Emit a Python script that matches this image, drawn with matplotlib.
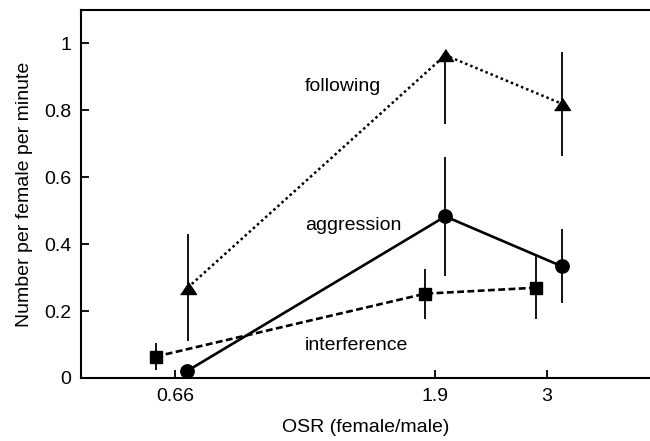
import matplotlib
matplotlib.use('Agg')
import matplotlib.pyplot as plt

plt.rcParams['font.family'] = ['Liberation Sans', 'DejaVu Sans']
plt.rcParams['font.size'] = 14

# OSR-Kategorien (Achsenbeschriftung)
osr_ticks = [0.66, 1.9, 3]
osr_labels = ['0.66', '1.9', '3']

# leicht versetzte x-Positionen je Serie (wie im Original)
x_following = [0.695, 1.985, 3.19]
x_aggression = [0.692, 1.985, 3.19]
x_interference = [0.610, 1.829, 2.877]

# Mittelwerte und Fehlerbalken
following = [0.27, 0.965, 0.82]
following_lo = [0.16, 0.205, 0.155]
following_hi = [0.16, 0.0, 0.155]

aggression = [0.02, 0.483, 0.334]
aggression_err = [0.0, 0.177, 0.11]

interference = [0.064, 0.252, 0.27]
interference_err = [0.041, 0.075, 0.095]

fig = plt.figure(figsize=(6.5, 4.41), dpi=100)
ax = fig.add_axes([0.1246, 0.1429, 0.8754, 0.8344])

tri = [(-1, -0.75), (1, -0.75), (0, 0.75)]

# Fehlerbalken
ax.errorbar(x_following, following, yerr=[following_lo, following_hi], fmt='none',
            ecolor='black', elinewidth=1.3, capsize=0, zorder=2)
ax.errorbar(x_aggression, aggression, yerr=aggression_err, fmt='none',
            ecolor='black', elinewidth=1.3, capsize=0, zorder=2)
ax.errorbar(x_interference, interference, yerr=interference_err, fmt='none',
            ecolor='black', elinewidth=1.3, capsize=0, zorder=2)

# Linien + Marker
ax.plot(x_following, following, color='black', linestyle=(0, (1, 1.2)), linewidth=1.8,
        marker=tri, markersize=11.5, zorder=3)
ax.plot(x_aggression, aggression, color='black', linestyle='-', linewidth=1.9,
        marker='o', markersize=9.6, zorder=3)
ax.plot(x_interference, interference, color='black', linestyle=(0, (2.6, 1.3)), linewidth=1.9,
        marker='s', markersize=8.4, zorder=3)

# Serienbeschriftungen
ax.text(1.12, 0.871, 'following', ha='left', va='center')
ax.text(1.12, 0.456, 'aggression', ha='left', va='center')
ax.text(1.12, 0.098, 'interference', ha='left', va='center')

ax.set_xscale('log')
ax.set_xlim(0.45, 4.57)
ax.set_ylim(0, 1.1)
ax.set_xticks(osr_ticks)
ax.set_xticklabels(osr_labels)
ax.minorticks_off()
ax.set_yticks([0, 0.2, 0.4, 0.6, 0.8, 1])
ax.set_yticklabels(['0', '0.2', '0.4', '0.6', '0.8', '1'])
ax.tick_params(direction='in', length=6, width=1.3, pad=7)

for side in ['left', 'bottom', 'top']:
    ax.spines[side].set_linewidth(1.5)
ax.spines['right'].set_visible(False)

ax.set_xlabel('OSR (female/male)', labelpad=10)
ax.set_ylabel('Number per female per minute', labelpad=8)

fig.savefig('out.png', dpi=100)
